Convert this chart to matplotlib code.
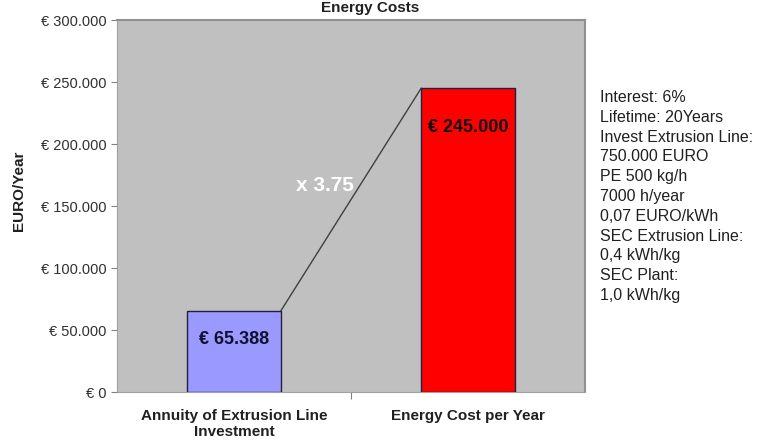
import matplotlib
matplotlib.use("Agg")
import matplotlib.pyplot as plt
from matplotlib.ticker import FuncFormatter

categories = ["Annuity of Extrusion Line\nInvestment", "Energy Cost per Year"]
values = [65388, 245000]
bar_colors = ["#9999FF", "#FF0000"]
value_labels = ["€ 65.388", "€ 245.000"]
ratio_label = "x 3.75"
notes = ["Interest: 6%", "Lifetime: 20Years", "Invest Extrusion Line:",
         "750.000 EURO", "PE 500 kg/h", "7000 h/year", "0,07 EURO/kWh",
         "SEC Extrusion Line:", "0,4 kWh/kg", "SEC Plant:", "1,0 kWh/kg"]

plt.rcParams['font.family'] = ['Liberation Sans', 'DejaVu Sans']

fig = plt.figure(figsize=(7.71, 4.4), dpi=100)
ax = fig.add_axes([117/771, 48/440, 468/771, 372/440])
ax.set_facecolor("#C0C0C0")

x = [0, 1]
width = 0.4
ax.bar(x, values, width=width, color=bar_colors, edgecolor="#202040", linewidth=1, zorder=3)

# connector between bar tops
ax.plot([x[0] + width/2, x[1] - width/2], values, color="#404040", linewidth=1, zorder=2)

ax.text(x[0], 42000, value_labels[0], ha="center", va="center", fontsize=13,
        fontweight="bold", color="#101030", zorder=4)
ax.text(x[1], 213500, value_labels[1], ha="center", va="center", fontsize=13,
        fontweight="bold", color="#101010", zorder=4)
ax.text(0.39, 166500, ratio_label, ha="center", va="center", fontsize=15,
        fontweight="bold", color="white", zorder=4)

ax.set_xlim(-0.5, 1.5)
ax.set_ylim(0, 300000)
ax.set_yticks(range(0, 300001, 50000))
ax.yaxis.set_major_formatter(FuncFormatter(lambda v, p: "€ " + f"{int(v):,}".replace(",", ".")))
ax.set_xticks([0.5], minor=False)
ax.set_xticks(x, minor=True)
ax.set_xticklabels([""])
ax.set_xticklabels(categories, minor=True, fontweight="bold", fontsize=11, color="#202020")
ax.tick_params(axis="x", which="minor", length=0, pad=12)
ax.tick_params(axis="x", which="major", length=5, color="#808080")
ax.tick_params(axis="y", length=4, color="#808080", labelsize=10.5, labelcolor="#303030")

for side in ["top", "right"]:
    ax.spines[side].set_color("#909090")
    ax.spines[side].set_linewidth(1.5)
for side in ["left", "bottom"]:
    ax.spines[side].set_color("#A0A0A0")

ax.set_ylabel("EURO/Year", fontweight="bold", fontsize=11, color="#202020")
ax.yaxis.set_label_coords(-0.195, 0.54)

fig.text(370/771, 1 - 1/440, "Energy Costs", ha="center", va="top", fontsize=11,
         fontweight="bold", color="#202020")

fig.text(600/771, 1 - 90/440, "\n".join(notes), ha="left", va="top",
         fontsize=11.5, color="#202020", linespacing=1.40)

fig.savefig("out.png", dpi=100)
